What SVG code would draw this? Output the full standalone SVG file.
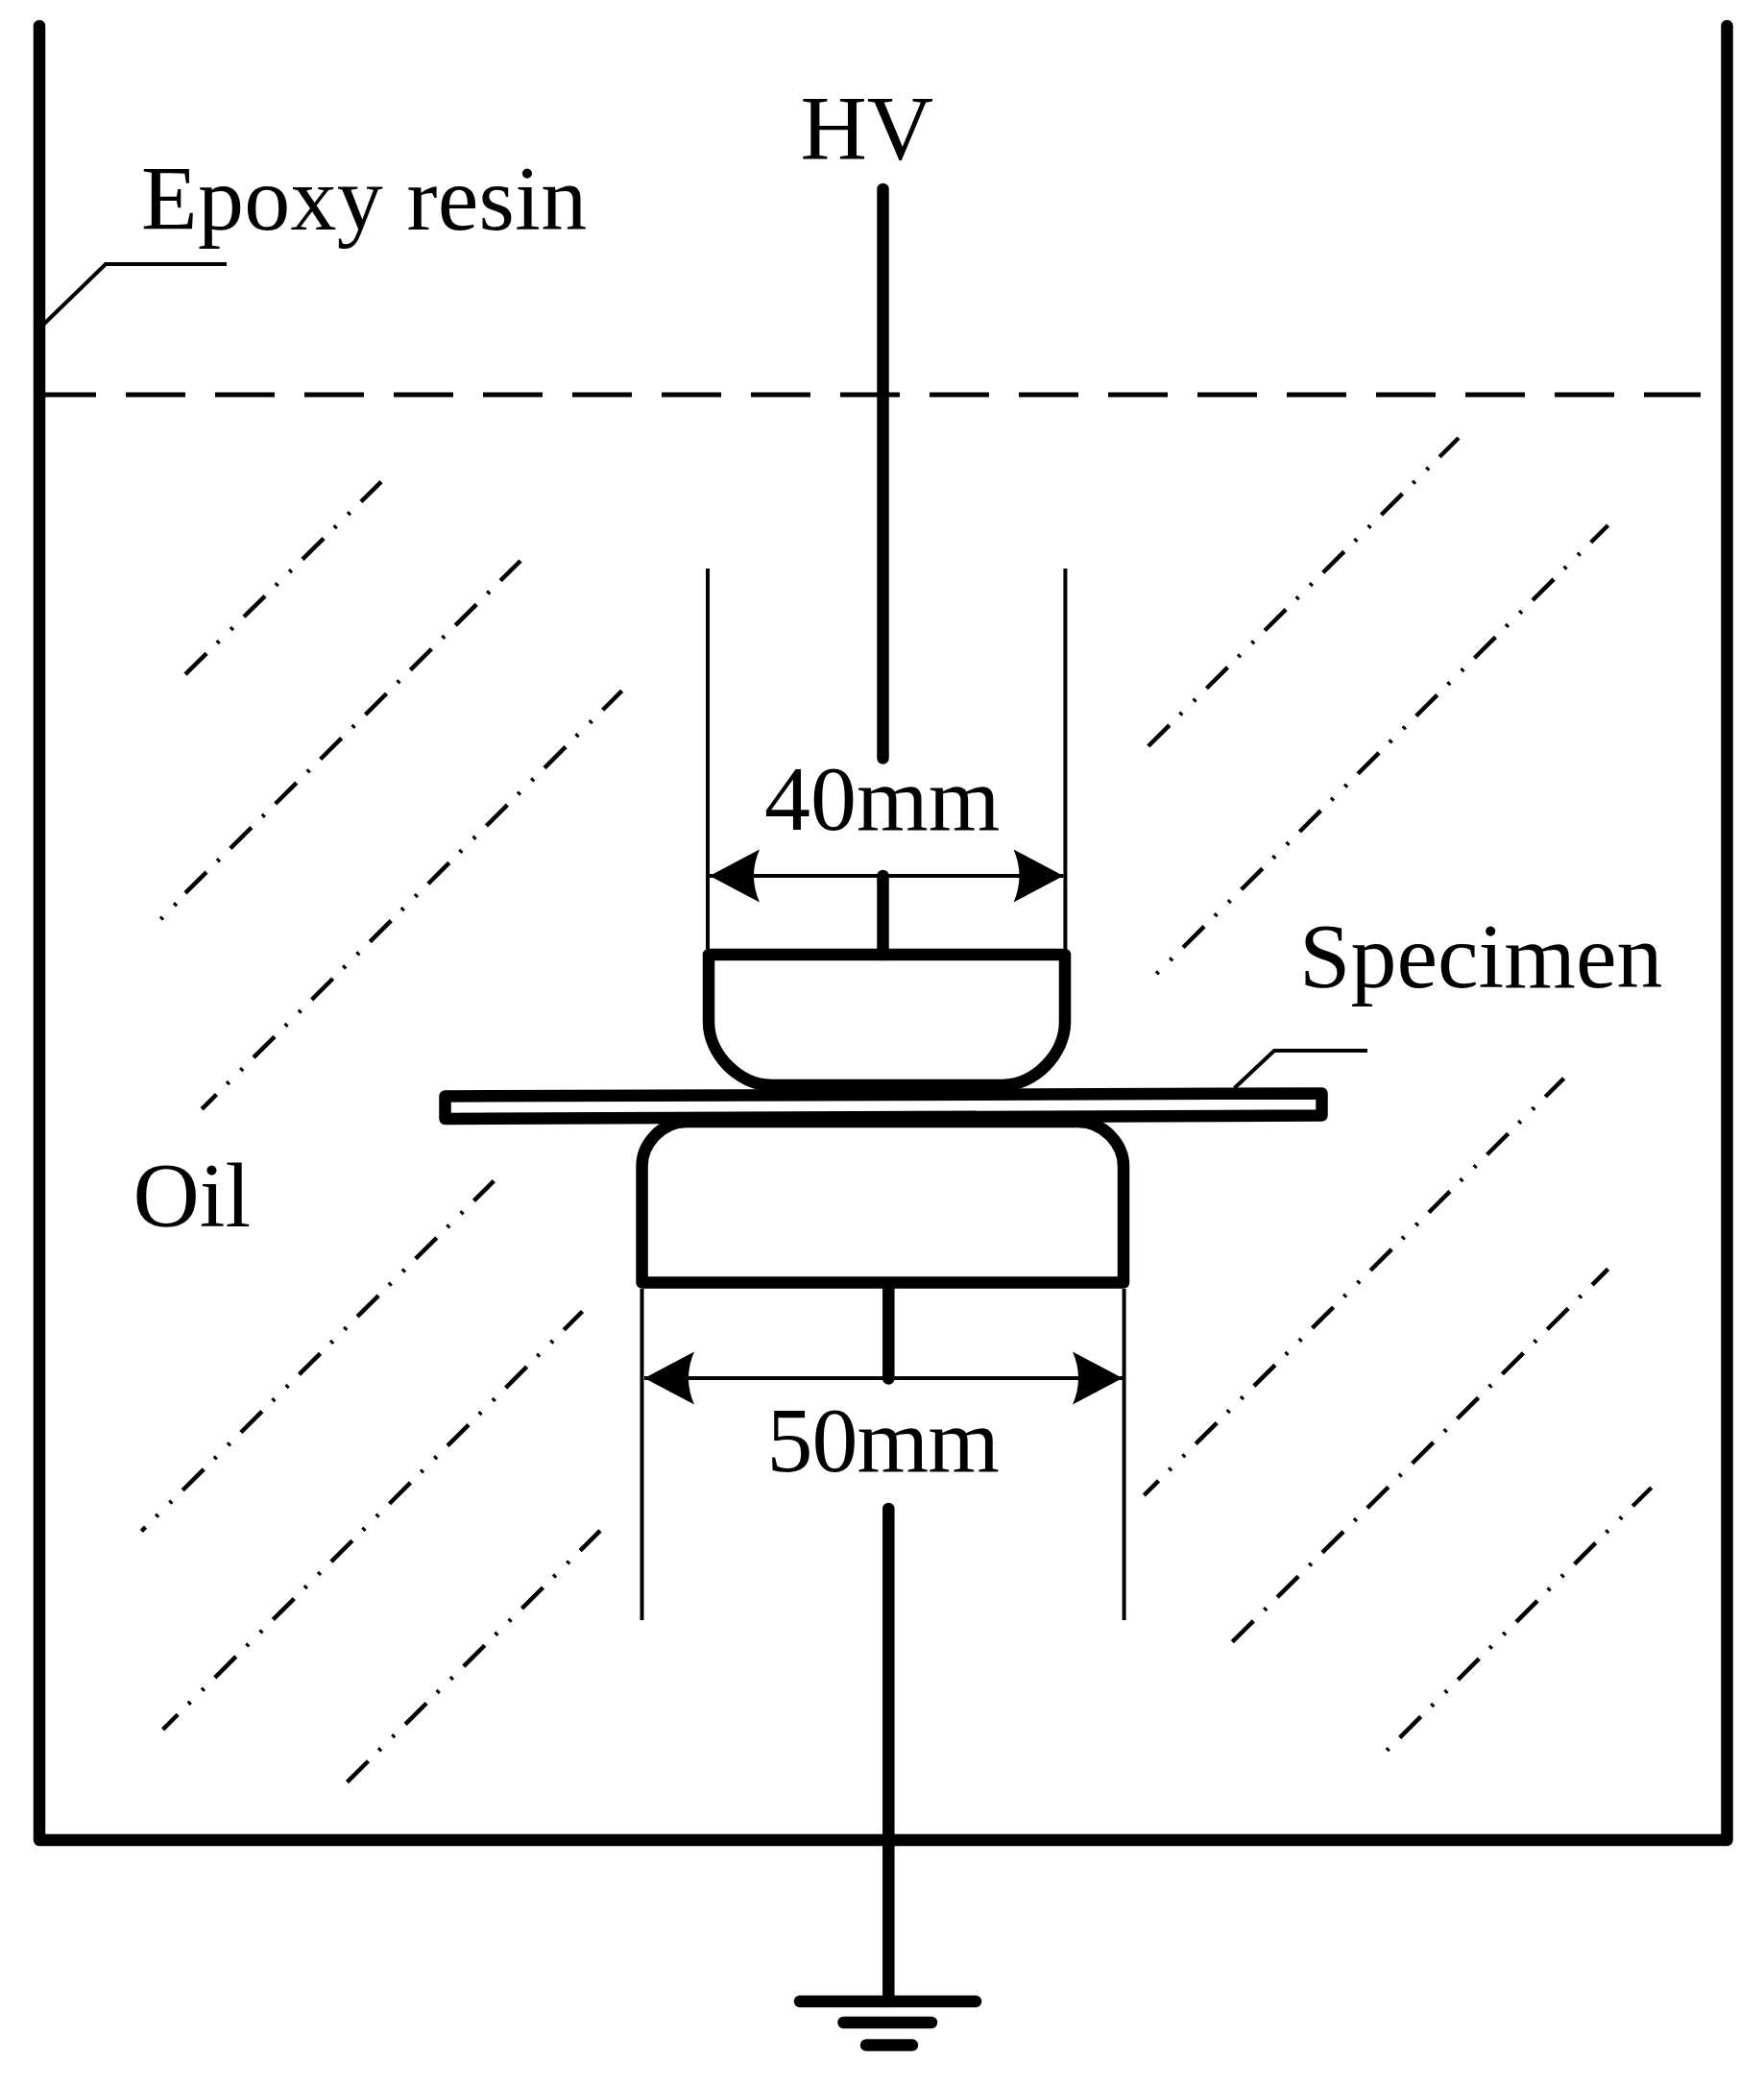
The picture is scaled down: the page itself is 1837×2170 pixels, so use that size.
<svg xmlns="http://www.w3.org/2000/svg" width="1837" height="2170" viewBox="0 0 1837 2170">
<style>
text{font-family:"Liberation Serif","Times New Roman",serif;font-size:96px;fill:#000}
.heavy{fill:none;stroke:#000;stroke-width:12.5;stroke-linecap:round;stroke-linejoin:round}
.thin{fill:none;stroke:#000;stroke-width:4;stroke-linejoin:miter}
.level{fill:none;stroke:#000;stroke-width:5;stroke-dasharray:62 31}
.dd{fill:none;stroke:#000;stroke-width:4.5;stroke-dasharray:31 15.5 3 17 3 16}
.d{fill:none;stroke:#000;stroke-width:4.5;stroke-dasharray:31 16 3 16}
.dim{fill:none;stroke:#000;stroke-width:4;marker-start:url(#arrow);marker-end:url(#arrow)}
</style>
<defs>
<marker id="arrow" markerUnits="userSpaceOnUse" markerWidth="60" markerHeight="60" viewBox="-56 -30 60 60" refX="0" refY="0" orient="auto-start-reverse">
<path d="M0 0L-52 -27.5Q-40 0 -52 27.5Z" fill="#000"/>
</marker>
</defs>
<rect width="1837" height="2170" fill="#fff"/>
<g id="oil-hatching">
<path class="dd" d="M193 702.2L397 501.7"/>
<path class="d" d="M167.4 957.2L169.5 955.1M181.5 942.8L183.6 940.7M193 929.9L542 584"/>
<path class="dd" style="stroke-dashoffset:9.5" d="M210.2 1154.8L647.6 719.4"/>
<path class="dd" style="stroke-dashoffset:25" d="M147.3 1594.4L514.3 1229.7"/>
<path class="dd" style="stroke-dashoffset:9" d="M169.6 1800.8L606.5 1365.5"/>
<path class="dd" d="M361.5 1855.6L625 1593.9"/>
<path class="dd" d="M1195.8 777L1519 456"/>
<path class="dd" style="stroke-dashoffset:46.5" d="M1204.4 1014L1674.6 547"/>
<path class="dd" style="stroke-dashoffset:9.5" d="M1191.3 1557L1628.6 1122.8"/>
<path class="d" d="M1283.3 1709.7L1674.6 1321.4"/>
<path class="dd" style="stroke-dashoffset:66.5" d="M1444.2 1822.7L1719.7 1549"/>
</g>
<g id="tank">
<path class="level" d="M38 411H1771"/>
<path class="heavy" d="M41 27V1916H1798.5V27"/>
</g>
<g id="connectors">
<path class="heavy" d="M919.5 197V789.5"/>
<path class="heavy" d="M919.5 912V994"/>
<path class="heavy" d="M925.3 1336V1435.5"/>
<path class="heavy" d="M925.3 1571V2084"/>
<path class="thin" d="M41 342L110 275H236"/>
<path class="thin" d="M1285.5 1133L1327 1094H1424"/>
</g>
<g id="ground">
<path class="heavy" d="M833 2084H1016"/>
<path class="heavy" d="M878.5 2106H970"/>
<path class="heavy" d="M902 2129.6H950"/>
</g>
<g id="dim-40mm">
<path class="thin" d="M737 592V988"/>
<path class="thin" d="M1109.4 592V988"/>
<path class="dim" d="M739 912H1107.5"/>
<text x="796" y="864">40mm</text>
</g>
<g id="dim-50mm">
<path class="thin" d="M668.5 1342V1687"/>
<path class="thin" d="M1170.6 1342V1687"/>
<path class="dim" d="M671 1435H1169"/>
<text x="798.6" y="1532" letter-spacing="-1">50mm</text>
</g>
<g id="upper-electrode">
<path class="heavy" d="M738 994H1109V1064C1109 1098 1077 1130 1044 1130H803C770 1130 738 1098 738 1064Z"/>
</g>
<g id="specimen">
<path class="heavy" d="M463.5 1141.5L1376.5 1138.5V1161.5L463.5 1165Z"/>
</g>
<g id="lower-electrode">
<path class="heavy" d="M668.6 1335.5V1214C668.6 1192 688 1168 715 1168H1123C1150 1168 1170 1192 1170 1214V1335.5Z"/>
</g>
<g id="labels">
<text x="833.5" y="166">HV</text>
<text x="147" y="239" letter-spacing="0.3">Epoxy resin</text>
<text x="1353" y="1028">Specimen</text>
<text x="138.5" y="1277">Oil</text>
</g>
</svg>
